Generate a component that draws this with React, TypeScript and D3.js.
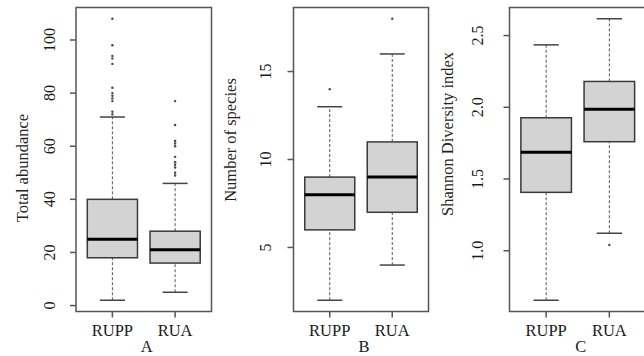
import * as d3 from 'd3'

// groups on every x axis
const groups = ['RUPP', 'RUA']

// five-number summaries per group: [lower whisker, Q1, median, Q3, upper whisker]
const abundanceBox = [
  [2, 18, 25, 40, 71],
  [5, 16, 21, 28, 46],
]
const abundanceOutliers = [
  [108, 98, 94, 93, 91, 82, 80, 79, 78, 77, 73, 72],
  [77, 68, 62, 61, 60, 56, 54, 53, 52, 50, 49],
]
const abundanceTicks = [0, 20, 40, 60, 80, 100]

const speciesBox = [
  [2, 6, 8, 9, 13],
  [4, 7, 9, 11, 16],
]
const speciesOutliers = [[14], [18]]
const speciesTicks = [5, 10, 15]

const shannonBox = [
  [0.655, 1.407, 1.687, 1.927, 2.435],
  [1.122, 1.76, 1.986, 2.18, 2.617],
]
const shannonOutliers = [[], [1.04]]
const shannonTicks = [1.0, 1.5, 2.0, 2.5]

const FONT = '"Liberation Serif", "Times New Roman", serif'
const TOP = 7.5
const BOTTOM = 311.5

function Panel({ left, right, box, outliers, ticks, tickFmt, yLabel, letter, tickX, titleX, titleY }) {
  const lo = d3.min(box, (d) => d[0])
  const hi = d3.max(box, (d) => d[4])
  const allLo = Math.min(lo, d3.min(outliers.flat()) ?? lo)
  const allHi = Math.max(hi, d3.max(outliers.flat()) ?? hi)
  const pad = (allHi - allLo) * 0.04
  const y = d3.scaleLinear().domain([allLo - pad, allHi + pad]).range([BOTTOM, TOP])
  const x = d3.scaleLinear().domain([0.42, 2.58]).range([left, right])
  const unit = x(1) - x(0)
  const half = unit * 0.4
  const cap = unit * 0.2
  const midX = (left + right) / 2

  return (
    <g>
      {box.map((b, i) => {
        const cx = x(i + 1)
        return (
          <g key={i}>
            <line x1={cx} x2={cx} y1={y(b[0])} y2={y(b[1])} stroke="#555" strokeDasharray="3,2" />
            <line x1={cx} x2={cx} y1={y(b[3])} y2={y(b[4])} stroke="#555" strokeDasharray="3,2" />
            <line x1={cx - cap} x2={cx + cap} y1={y(b[0])} y2={y(b[0])} stroke="#444" strokeWidth={1.5} />
            <line x1={cx - cap} x2={cx + cap} y1={y(b[4])} y2={y(b[4])} stroke="#444" strokeWidth={1.5} />
            <rect x={cx - half} y={y(b[3])} width={half * 2} height={y(b[1]) - y(b[3])} fill="#d3d3d3" stroke="#3a3a3a" strokeWidth={1.5} />
            <line x1={cx - half} x2={cx + half} y1={y(b[2])} y2={y(b[2])} stroke="#000" strokeWidth={3} />
            {outliers[i].map((v, j) => (
              <circle key={j} cx={cx} cy={y(v)} r={1.2} fill="#444" />
            ))}
          </g>
        )
      })}
      <rect x={left} y={TOP} width={right - left} height={BOTTOM - TOP} fill="none" stroke="#555" strokeWidth={1.5} />
      {ticks.map((t) => (
        <g key={t}>
          <line x1={left - 6} x2={left} y1={y(t)} y2={y(t)} stroke="#555" strokeWidth={1.5} />
          <text
            transform={`translate(${tickX},${y(t)}) rotate(-90)`}
            textAnchor="middle"
            dy="0.35em"
            fontSize={16}
            fill="#1a1a1a"
          >
            {tickFmt(t)}
          </text>
        </g>
      ))}
      {groups.map((g, i) => (
        <g key={g}>
          <line x1={x(i + 1)} x2={x(i + 1)} y1={BOTTOM} y2={BOTTOM + 6} stroke="#555" strokeWidth={1.5} />
          <text x={x(i + 1)} y={336} textAnchor="middle" fontSize={16.5} fill="#1a1a1a">
            {g}
          </text>
        </g>
      ))}
      <text x={midX + 3} y={352} textAnchor="middle" fontSize={16.5} fill="#1a1a1a">
        {letter}
      </text>
      <text
        transform={`translate(${titleX},${titleY}) rotate(-90)`}
        textAnchor="middle"
        dy="0.35em"
        fontSize={16.5}
        fill="#2a1f1f"
      >
        {yLabel}
      </text>
    </g>
  )
}

export default function App() {
  return (
    <svg
      width={644}
      height={356}
      style={{ position: 'absolute', left: 0, top: 0, background: '#fff', fontFamily: FONT }}
    >
      <Panel
        left={76}
        right={211.5}
        box={abundanceBox}
        outliers={abundanceOutliers}
        ticks={abundanceTicks}
        tickFmt={(t) => String(t)}
        yLabel="Total abundance"
        letter="A"
        tickX={49}
        titleX={22}
        titleY={168}
      />
      <Panel
        left={293.5}
        right={428.5}
        box={speciesBox}
        outliers={speciesOutliers}
        ticks={speciesTicks}
        tickFmt={(t) => String(t)}
        yLabel="Number of species"
        letter="B"
        tickX={265}
        titleX={230}
        titleY={140}
      />
      <Panel
        left={509.5}
        right={646}
        box={shannonBox}
        outliers={shannonOutliers}
        ticks={shannonTicks}
        tickFmt={(t) => t.toFixed(1)}
        yLabel="Shannon Diversity index"
        letter="C"
        tickX={477}
        titleX={447}
        titleY={134}
      />
    </svg>
  )
}
